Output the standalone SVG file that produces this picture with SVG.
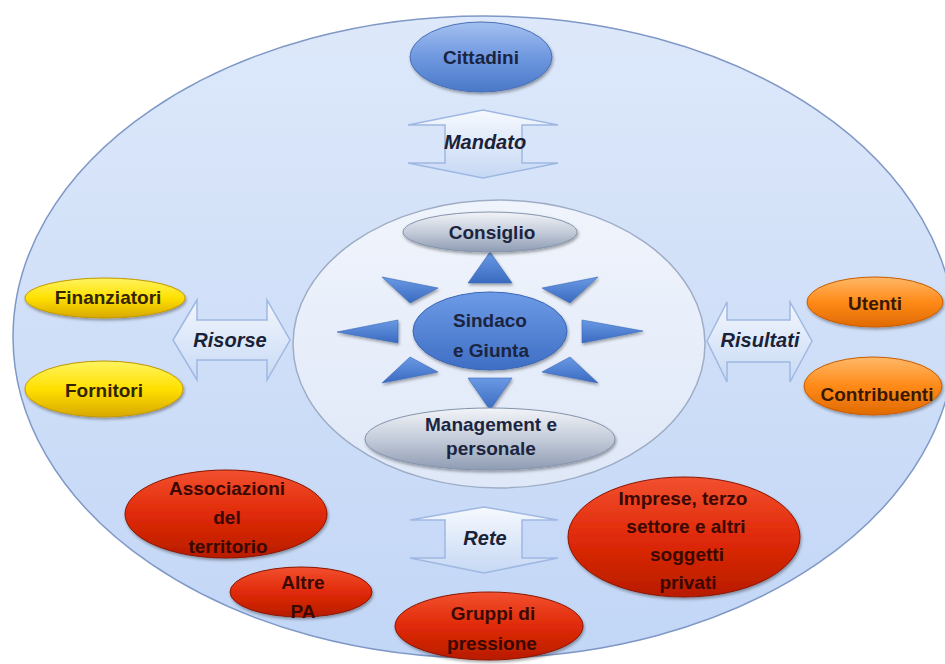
<svg xmlns="http://www.w3.org/2000/svg" width="945" height="664" viewBox="0 0 945 664">
<defs>
<linearGradient id="gOuter" x1="0" y1="0" x2="0" y2="1"><stop offset="0" stop-color="#dde8fa"/><stop offset="1" stop-color="#c2d6f6"/></linearGradient>
<linearGradient id="gInner" x1="0" y1="0" x2="0" y2="1"><stop offset="0" stop-color="#f0f4fc"/><stop offset="1" stop-color="#dfe8f8"/></linearGradient>
<linearGradient id="gBlue" x1="0" y1="0" x2="0" y2="1"><stop offset="0" stop-color="#a4c0f0"/><stop offset="0.5" stop-color="#6f98e0"/><stop offset="1" stop-color="#4a78c8"/></linearGradient>
<linearGradient id="gBlue2" x1="0" y1="0" x2="0" y2="1"><stop offset="0" stop-color="#6d9be6"/><stop offset="1" stop-color="#3e6ec4"/></linearGradient>
<linearGradient id="gTri" x1="0" y1="0" x2="0" y2="1"><stop offset="0" stop-color="#6a9ae4"/><stop offset="1" stop-color="#3a6ac0"/></linearGradient>
<linearGradient id="gGrey" x1="0" y1="0" x2="0" y2="1"><stop offset="0" stop-color="#f2f4f8"/><stop offset="0.5" stop-color="#c4ccda"/><stop offset="1" stop-color="#8e9bb2"/></linearGradient>
<linearGradient id="gYellow" x1="0" y1="0" x2="0" y2="1"><stop offset="0" stop-color="#fff460"/><stop offset="0.5" stop-color="#ffe000"/><stop offset="1" stop-color="#d8a800"/></linearGradient>
<linearGradient id="gOrange" x1="0" y1="0" x2="0" y2="1"><stop offset="0" stop-color="#ffb868"/><stop offset="0.5" stop-color="#ff8a18"/><stop offset="1" stop-color="#e06a00"/></linearGradient>
<linearGradient id="gRed" x1="0" y1="0" x2="0" y2="1"><stop offset="0" stop-color="#f25030"/><stop offset="0.5" stop-color="#e02a08"/><stop offset="1" stop-color="#b81c00"/></linearGradient>
<linearGradient id="gArrowV" x1="0" y1="0" x2="0" y2="1"><stop offset="0" stop-color="#f6f9fe"/><stop offset="1" stop-color="#c6d8f4"/></linearGradient>
<linearGradient id="gArrowH" x1="0" y1="0" x2="0" y2="1"><stop offset="0" stop-color="#f2f6fd"/><stop offset="1" stop-color="#c8daf5"/></linearGradient>
<filter id="sh" x="-20%" y="-20%" width="140%" height="150%"><feDropShadow dx="1" dy="2" stdDeviation="1.5" flood-color="#000" flood-opacity="0.35"/></filter>
<filter id="shText" x="-10%" y="-20%" width="120%" height="150%"><feDropShadow dx="0.5" dy="0.5" stdDeviation="0.6" flood-color="#000" flood-opacity="0.3"/></filter>
</defs>
<style>
.t{font-family:"Liberation Sans",Arial,sans-serif;font-size:19px;font-weight:bold;text-anchor:middle}
.ti{font-family:"Liberation Sans",Arial,sans-serif;font-size:20px;font-weight:bold;font-style:italic;text-anchor:middle;fill:#1a2238}
.dk{fill:#1b2440}
.dr{fill:#3a0800}
.dy{fill:#332400}
.do{fill:#3a1800}
.blue{fill:url(#gBlue);stroke:#4a70b8;stroke-width:1}
.grey{fill:url(#gGrey);stroke:#8494ac;stroke-width:1}
.yel{fill:url(#gYellow);stroke:#c29800;stroke-width:1}
.ora{fill:url(#gOrange);stroke:#c85c00;stroke-width:1}
.red{fill:url(#gRed);stroke:#8a1400;stroke-width:1}
.arv{fill:url(#gArrowV);stroke:#9fb8e2;stroke-width:1.5}
.arh{fill:url(#gArrowH);stroke:#9fb8e2;stroke-width:1.5}
.tri{fill:url(#gTri);stroke:#3a68b8;stroke-width:0.6}
</style>
<rect width="945" height="664" fill="#ffffff"/>
<g id="outer"><ellipse cx="484" cy="337" rx="471" ry="321" fill="url(#gOuter)" stroke="#7f98c6" stroke-width="1.5"/></g>
<g id="inner"><ellipse cx="499" cy="344" rx="206" ry="144" fill="url(#gInner)" stroke="#9eadc6" stroke-width="1.5"/></g>

<g id="connectors">
<path class="arv" d="M483,110 L558,125 L522,125 L522,163 L558,163 L483,178 L408,163 L445,163 L445,125 L408,125 Z"/>
<path class="arv" d="M484,507 L558,520 L522,520 L522,558 L558,558 L484,573 L410,558 L445,558 L445,520 L410,520 Z"/>
<path class="arh" d="M173,340 L197,300 L197,320 L267,320 L267,300 L290,340 L267,380 L267,360 L197,360 L197,380 Z"/>
<path class="arh" d="M707,341 L727,302 L727,320 L790,320 L790,302 L812,341 L790,382 L790,362 L727,362 L727,382 Z"/>
<g id="rays" filter="url(#sh)">
<polygon class="tri" points="490,252 512,283 468,283"/>
<polygon class="tri" points="490,410 512,378 468,378"/>
<polygon class="tri" points="337,332 398,320 398,343"/>
<polygon class="tri" points="643,331 582,320 582,343"/>
<polygon class="tri" points="382,277 438,288 410,303"/>
<polygon class="tri" points="598,277 542,288 570,303"/>
<polygon class="tri" points="382,383 410,357 438,372"/>
<polygon class="tri" points="598,383 570,357 542,372"/>
</g>
<text class="ti" x="485" y="149">Mandato</text>
<text class="ti" x="485" y="545">Rete</text>
<text class="ti" x="230" y="347">Risorse</text>
<text class="ti" x="760" y="347">Risultati</text>
</g>

<g id="cittadini"><ellipse class="blue" cx="481" cy="57" rx="71" ry="35" filter="url(#sh)"/><text class="t dk" x="481" y="64">Cittadini</text></g>
<g id="consiglio"><ellipse class="grey" cx="490" cy="232" rx="87" ry="20" filter="url(#sh)"/><text class="t dk" x="492" y="239">Consiglio</text></g>
<g id="sindaco"><ellipse cx="490" cy="331" rx="77" ry="39" fill="url(#gBlue2)" stroke="#3a66b6" stroke-width="1" filter="url(#sh)"/><text class="t dk" x="490" y="327">Sindaco</text><text class="t dk" x="491" y="357">e Giunta</text></g>
<g id="management"><ellipse class="grey" cx="490" cy="439" rx="125" ry="31" filter="url(#sh)"/><text class="t dk" x="491" y="431">Management e</text><text class="t dk" x="491" y="455">personale</text></g>

<g id="finanziatori"><ellipse class="yel" cx="105" cy="298" rx="80" ry="20" filter="url(#sh)"/><text class="t dy" x="108" y="304">Finanziatori</text></g>
<g id="fornitori"><ellipse class="yel" cx="104" cy="389" rx="79" ry="28" filter="url(#sh)"/><text class="t dy" x="104" y="397">Fornitori</text></g>
<g id="utenti"><ellipse class="ora" cx="875" cy="302" rx="68" ry="25" filter="url(#sh)"/><text class="t do" x="875" y="310">Utenti</text></g>
<g id="contribuenti"><ellipse class="ora" cx="873" cy="386" rx="69" ry="29" filter="url(#sh)"/><text class="t do" x="877" y="401">Contribuenti</text></g>

<g id="associazioni"><ellipse class="red" cx="226" cy="514" rx="101" ry="44" filter="url(#sh)"/><text class="t dr" x="227" y="495">Associazioni</text><text class="t dr" x="227" y="524">del</text><text class="t dr" x="228" y="553">territorio</text></g>
<g id="altrepa"><ellipse class="red" cx="301" cy="592" rx="71" ry="25" filter="url(#sh)"/><text class="t dr" x="303" y="589">Altre</text><text class="t dr" x="303" y="618">PA</text></g>
<g id="imprese"><ellipse class="red" cx="684" cy="537" rx="116" ry="60" filter="url(#sh)"/><text class="t dr" x="683" y="505">Imprese, terzo</text><text class="t dr" x="686" y="533">settore e altri</text><text class="t dr" x="687" y="561">soggetti</text><text class="t dr" x="688" y="589">privati</text></g>
<g id="gruppi"><ellipse class="red" cx="489" cy="626" rx="94" ry="34" filter="url(#sh)"/><text class="t dr" x="493" y="620">Gruppi di</text><text class="t dr" x="492" y="650">pressione</text></g>
</svg>
